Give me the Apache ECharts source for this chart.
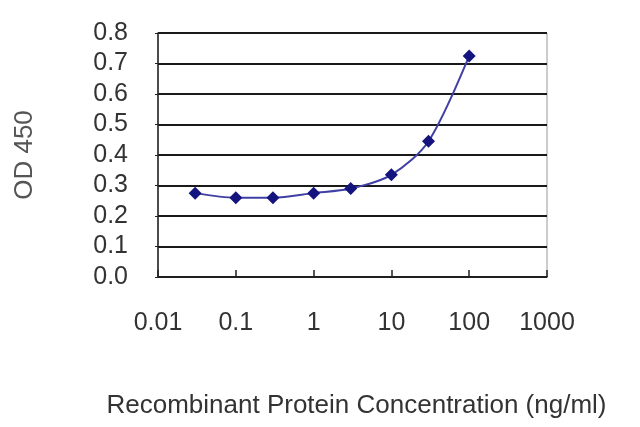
<!DOCTYPE html>
<html><head><meta charset="utf-8">
<script src="https://cdn.jsdelivr.net/npm/echarts@6/dist/echarts.min.js"></script>
<style>html,body{margin:0;padding:0;background:#fff}#c{width:640px;height:427px}</style>
</head><body><div id="c"></div>
<script>
var concentrations = [0.03, 0.1, 0.3, 1, 3, 10, 30, 100];
var od450 = [0.275, 0.26, 0.26, 0.275, 0.29, 0.335, 0.445, 0.725];
var xTickLabels = ['0.01', '0.1', '1', '10', '100', '1000'];
var xTitle = 'Recombinant Protein Concentration (ng/ml)';
var yTitle = 'OD 450';

var chart = echarts.init(document.getElementById('c'), null, {renderer: 'canvas'});
var font = 'Liberation Sans, Arial, sans-serif';
chart.setOption({
  animation: false,
  backgroundColor: '#fff',
  grid: {left: 158, right: 93, top: 33, bottom: 150, show: true, borderColor: '#999', borderWidth: 1},
  xAxis: {
    type: 'log', logBase: 10, min: 0.01, max: 1000,
    name: xTitle, nameLocation: 'middle', nameGap: 116,
    nameTextStyle: {fontFamily: font, fontSize: 26, color: '#333', padding: [0, 0, 0, 8]},
    axisLine: {lineStyle: {color: '#222', width: 1.5}},
    axisTick: {inside: true, length: 7, lineStyle: {color: '#222', width: 1.5}},
    minorTick: {show: false},
    splitLine: {show: false},
    axisLabel: {
      margin: 34, fontFamily: font, fontSize: 25, color: '#333',
      formatter: function (v) {
        var e = Math.round(Math.log10(v));
        return xTickLabels[e + 2];
      }
    }
  },
  yAxis: {
    type: 'value', min: 0, max: 0.8, interval: 0.1,
    name: yTitle, nameLocation: 'middle', nameGap: 120, nameRotate: 90,
    nameTextStyle: {fontFamily: font, fontSize: 26, color: '#555'},
    axisLine: {show: true, lineStyle: {color: '#222', width: 1.5}},
    axisTick: {show: true, length: 3, lineStyle: {color: '#222'}},
    splitLine: {show: true, lineStyle: {color: '#1a1a1a', width: 1.8}},
    axisLabel: {
      margin: 30, fontFamily: font, fontSize: 25, color: '#333',
      formatter: function (v) { return v.toFixed(1); }
    }
  },
  series: [{
    type: 'line',
    data: concentrations.map(function (c, i) { return [c, od450[i]]; }),
    smooth: 0.3,
    symbol: 'diamond', symbolSize: 13,
    lineStyle: {color: '#4040a4', width: 2},
    itemStyle: {color: '#14147f'}
  }]
});
</script></body></html>
